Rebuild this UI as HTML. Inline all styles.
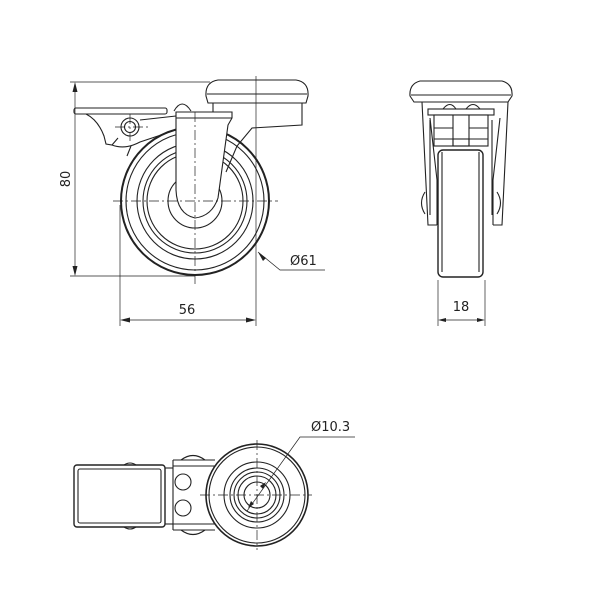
<!DOCTYPE html>
<html><head><meta charset="utf-8"><style>
html,body{margin:0;padding:0;background:#fff}
svg{display:block}
text{font-family:"DejaVu Sans","Liberation Sans",sans-serif;font-size:13px;fill:#222}
</style></head><body>
<svg width="600" height="600" viewBox="0 0 600 600" xmlns="http://www.w3.org/2000/svg">
<g fill="none" stroke="#222" stroke-width="1.1">
<!-- FRONT VIEW -->
<circle cx="195" cy="201" r="74" stroke-width="2"/>
<circle cx="195" cy="201" r="69"/>
<circle cx="195" cy="201" r="58"/>
<circle cx="195" cy="201" r="52"/>
<circle cx="195" cy="201" r="48"/>
<circle cx="195" cy="201" r="27"/>
<circle cx="195" cy="201" r="10"/>
<!-- bracket arm -->
<path d="M302 103 L302 125 L252 128 L237 146 L226 172"/>
<path d="M213 102 L213 112"/>
<!-- pivot bump -->
<path d="M174 111 Q182 97 191 111" fill="#fff"/>
<!-- fork -->
<path d="M176 112 L176 190 Q177 214 195 218 Q212 216 218 198 L228 125 L232 118 L232 112 Z" fill="#fff"/>
<line x1="176" y1="118" x2="232" y2="118"/>
<!-- cap -->
<path d="M206 96 Q205 82 218 80 L296 80 Q309 82 308 96 L306 103 L208 103 Z" fill="#fff"/>
<line x1="207" y1="94" x2="307" y2="94"/>
<!-- brake -->
<rect x="74" y="108" width="93" height="6" rx="2" fill="#fff"/>
<path d="M86 114 Q98 120 104 136 L106 144 L112 145 L118 138"/>
<path d="M112 145 Q125 150 140 142 L176 130"/>
<path d="M140 120 L176 116"/>
<circle cx="130" cy="127" r="9"/>
<circle cx="130" cy="127" r="5.5"/>
<path d="M131 146 L127 156"/>
<g stroke-width="0.7" stroke-dasharray="10 3 2 3">
<line x1="113" y1="201" x2="278" y2="201"/>
<line x1="195" y1="112" x2="195" y2="284"/>
<line x1="115" y1="127" x2="148" y2="127"/>
<line x1="130" y1="114" x2="130" y2="141"/>
</g>
<g stroke-width="0.7">
<line x1="70" y1="82" x2="210" y2="82"/>
<line x1="70" y1="276" x2="195" y2="276"/>
<line x1="75" y1="84" x2="75" y2="274"/>
<line x1="120" y1="205" x2="120" y2="326"/>
<line x1="256" y1="76" x2="256" y2="326"/>
<line x1="122" y1="320" x2="254" y2="320"/>
<polyline points="258,252 280,270 325,270"/>
</g>
</g>
<g fill="#222">
<path d="M75 82 L72.5 92 L77.5 92 Z"/><path d="M75 276 L72.5 266 L77.5 266 Z"/>
<path d="M120 320 L130 317.5 L130 322.5 Z"/><path d="M256 320 L246 317.5 L246 322.5 Z"/>
<path d="M258 252 L263 261 L266 258 Z"/>
</g>
<text x="70" y="179" text-anchor="middle" transform="rotate(-90 70 179)">80</text>
<text x="187" y="314" text-anchor="middle">56</text>
<text x="290" y="265">Ø61</text>

<!-- SIDE VIEW -->
<g fill="none" stroke="#222" stroke-width="1.1">
<path d="M422 102 L428 225 L437 225" />
<path d="M508 102 L502 225 L493 225"/>
<path d="M430 118 L437 180 L437 225"/><path d="M500 118 L493 180 L493 225"/>
<rect x="438" y="150" width="45" height="127" rx="5" fill="#fff" stroke-width="1.4"/>
<line x1="442" y1="152" x2="442" y2="272"/><line x1="479" y1="152" x2="479" y2="272"/>
<path d="M410 96 Q409 84 420 81 L502 81 Q513 84 512 96 L508 102 L414 102 Z" fill="#fff"/>
<line x1="411" y1="95" x2="511" y2="95"/>
<rect x="428" y="109" width="66" height="6" fill="#fff"/>
<rect x="434" y="115" width="54" height="31" fill="#fff"/>
<line x1="453" y1="115" x2="453" y2="146"/><line x1="469" y1="115" x2="469" y2="146"/>
<line x1="434" y1="128" x2="453" y2="128"/><line x1="469" y1="128" x2="488" y2="128"/>
<line x1="434" y1="139" x2="488" y2="139"/>
<rect x="453" y="139" width="16" height="7"/>
<path d="M443 109 Q450 100 456 109"/><path d="M466 109 Q473 100 480 109"/>
<path d="M430 120 L430 215"/><path d="M492 120 L492 215"/>
<path d="M425 192 Q418 203 425 214"/><path d="M497 192 Q504 203 497 214"/>
<g stroke-width="0.7">
<line x1="438" y1="280" x2="438" y2="326"/><line x1="485" y1="280" x2="485" y2="326"/>
<line x1="440" y1="320" x2="483" y2="320"/>
</g>
</g>
<g fill="#222"><path d="M438 320 L446 318 L446 322 Z"/><path d="M485 320 L477 318 L477 322 Z"/></g>
<text x="461" y="311" text-anchor="middle">18</text>

<!-- BOTTOM VIEW -->
<g fill="none" stroke="#222" stroke-width="1.1">
<rect x="74" y="465" width="91" height="62" rx="3" stroke-width="1.4"/>
<rect x="78" y="469" width="83" height="54" rx="2"/>
<line x1="165" y1="468" x2="173" y2="468"/><line x1="165" y1="524" x2="173" y2="524"/>
<path d="M173 460 L215 460 M173 530 L215 530 M173 460 L173 530"/>
<path d="M181 460 Q193 451 205 460"/><path d="M181 530 Q193 539 205 530"/>
<line x1="173" y1="466" x2="215" y2="466"/><line x1="173" y1="524" x2="215" y2="524"/>
<circle cx="183" cy="482" r="8"/><circle cx="183" cy="508" r="8"/>
<path d="M124 465 Q130 461 136 465"/><path d="M124 527 Q130 531 136 527"/>
<circle cx="257" cy="495" r="51" fill="#fff" stroke-width="1.6"/>
<circle cx="257" cy="495" r="48"/>
<circle cx="257" cy="495" r="33"/>
<circle cx="257" cy="495" r="27"/>
<circle cx="257" cy="495" r="23"/>
<circle cx="257" cy="495" r="19"/>
<circle cx="257" cy="495" r="13"/>
<g stroke-width="0.7" stroke-dasharray="10 3 2 3">
<line x1="200" y1="495" x2="312" y2="495"/>
<line x1="257" y1="440" x2="257" y2="550"/>
</g>
<g stroke-width="0.7">
<polyline points="247,511 300,437 355,437"/>
</g>
</g>
<g fill="#222"><path d="M266 482 L260 486 L263 489 Z"/><path d="M248 508 L254 504 L251 501 Z"/></g>
<text x="311" y="431">Ø10.3</text>
</svg>
</body></html>
